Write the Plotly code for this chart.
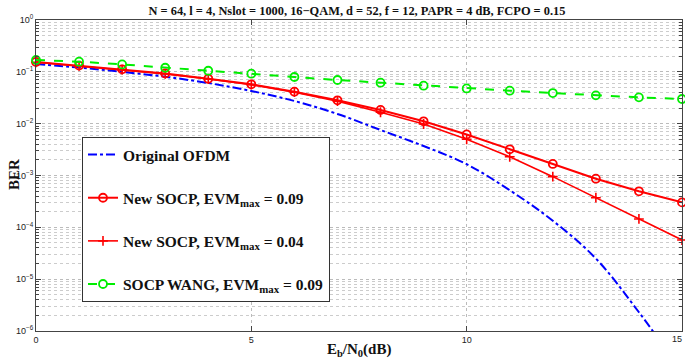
import plotly.graph_objects as go

ebn0 = list(range(16))

ber_ofdm = [0.142, 0.121, 0.100, 0.0805, 0.0608, 0.0427, 0.0274, 0.0154, 0.00755,
            0.0037, 0.00165, 5.2e-4, 1.34e-4, 2.5e-5, 2.3e-6, 1.6e-7]
ber_new_009 = [0.155, 0.132, 0.112, 0.093, 0.0738, 0.0574, 0.0414, 0.0282, 0.0184,
               0.0111, 0.0062, 0.0032, 0.00167, 0.000867, 0.000495, 0.000303]
ber_new_004 = [0.153, 0.130, 0.110, 0.091, 0.0725, 0.0565, 0.0405, 0.0272, 0.0166,
               0.00986, 0.0050, 0.0023, 0.00095, 0.000373, 0.000145, 5.7e-5]
ber_wang = [0.169, 0.157, 0.139, 0.120, 0.105, 0.092, 0.0795, 0.0696, 0.0617,
            0.054, 0.0478, 0.0433, 0.039, 0.0352, 0.0322, 0.0299]

y_tick_vals = [1e-6, 1e-5, 1e-4, 1e-3, 1e-2, 1e-1, 1]
y_tick_text = ["10<sup>−6</sup>", "10<sup>−5</sup>", "10<sup>−4</sup>", "10<sup>−3</sup>",
               "10<sup>−2</sup>", "10<sup>−1</sup>", "10<sup>0</sup>"]
x_tick_vals = [0, 5, 10, 15]
x_tick_text = ["0", "5", "10", ""]
x_last_label = "15"

names = ["<b>Original OFDM</b>",
         "<b>New SOCP, EVM<sub>max</sub> = 0.09</b>",
         "<b>New SOCP, EVM<sub>max</sub> = 0.04</b>",
         "<b>SOCP WANG, EVM<sub>max</sub> = 0.09</b>"]

minor_vals = [m * 10 ** e for e in range(-6, 0) for m in range(2, 10)]

SERIF = "Liberation Serif, Times New Roman, serif"

fig = go.Figure()
fig.add_trace(go.Scatter(x=ebn0, y=ber_ofdm, name=names[0], mode="lines",
                         line=dict(color="#0000ff", width=2, dash="dashdot", shape="spline"),
                         legendgroup="a"))
fig.add_trace(go.Scatter(x=ebn0, y=ber_new_009, name=names[1], mode="lines+markers",
                         line=dict(color="#ff0000", width=2), cliponaxis=False,
                         marker=dict(symbol="circle-open", size=8, color="#ff0000",
                                     line=dict(width=1.8, color="#ff0000")),
                         legendgroup="b"))
fig.add_trace(go.Scatter(x=ebn0, y=ber_new_004, name=names[2], mode="lines+markers",
                         line=dict(color="#ff0000", width=1.6), cliponaxis=False,
                         marker=dict(symbol="cross-thin", size=7, color="#ff0000",
                                     line=dict(width=1.6, color="#ff0000")),
                         legendgroup="c"))
fig.add_trace(go.Scatter(x=ebn0, y=ber_wang, name=names[3], mode="lines+markers",
                         line=dict(color="#00ee00", width=2, dash="dash"), cliponaxis=False,
                         marker=dict(symbol="circle-open", size=8, color="#00ee00",
                                     line=dict(width=1.8, color="#00ee00")),
                         legendgroup="d"))

axis_font = dict(family="Liberation Sans, Arial, sans-serif", size=9, color="#222")

fig.update_layout(
    width=685, height=364,
    margin=dict(l=36, r=3, t=20, b=33),
    paper_bgcolor="white", plot_bgcolor="white",
    title=dict(text="<b>N = 64, l = 4, Nslot = 1000, 16−QAM, d = 52, f = 12, PAPR = 4 dB, FCPO = 0.15</b>",
               x=357 / 685, xanchor="center", y=1 - 11 / 364, yanchor="middle", yref="container",
               automargin=False,
               font=dict(family=SERIF, size=12.4, color="#111")),
    showlegend=True,
    legend=dict(x=(82 - 36) / 646, y=1 - (137 - 20) / 311, xanchor="left", yanchor="top",
                bgcolor="white", bordercolor="#333", borderwidth=1,
                font=dict(family=SERIF, size=15.5, color="#111"),
                tracegroupgap=20, itemwidth=30, traceorder="grouped"),
    xaxis=dict(range=[0, 15], tickvals=x_tick_vals, ticktext=x_tick_text,
               ticks="inside", ticklen=5,
               tickfont=axis_font, showline=True, linecolor="#444", linewidth=1,
               mirror="allticks", showgrid=True, gridcolor="#bbbbbb", griddash="dot",
               zeroline=False, automargin=False, ticklabeloverflow="allow"),
    yaxis=dict(type="log", range=[-6, 0], tickvals=y_tick_vals, ticktext=y_tick_text,
               ticks="inside", ticklen=5, tickfont=axis_font, showline=True,
               linecolor="#444", linewidth=1, mirror="allticks", showgrid=True,
               gridcolor="#bbbbbb", griddash="dot", zeroline=False, automargin=False,
               ticklabeloverflow="allow",
               minor=dict(tickvals=minor_vals, ticks="inside", ticklen=3, showgrid=True,
                          gridcolor="#cccccc", griddash="dot", tickcolor="#444")),
    annotations=[
        dict(text=x_last_label, xref="x", yref="paper", x=x_tick_vals[-1], xshift=2,
             y=-(339 - 331) / 311, xanchor="right", yanchor="middle", showarrow=False,
             font=axis_font),
        dict(text="<b>E<sub>b</sub>/N<sub>0</sub>(dB)</b>", xref="paper", yref="paper",
             x=0.5, y=-(350 - 331) / 311, xanchor="center", yanchor="middle", showarrow=False,
             font=dict(family=SERIF, size=15, color="#111")),
        dict(text="<b>BER</b>", xref="paper", yref="paper",
             x=-(36 - 14) / 646, y=1 - (175 - 20) / 311, xanchor="center", yanchor="middle",
             textangle=-90, showarrow=False,
             font=dict(family=SERIF, size=15, color="#111")),
    ],
)

fig.write_html("out.html",
               config={"displayModeBar": False},
               post_script="document.body.style.margin='0';document.body.style.padding='0';"
                           "document.documentElement.style.overflow='hidden';")
